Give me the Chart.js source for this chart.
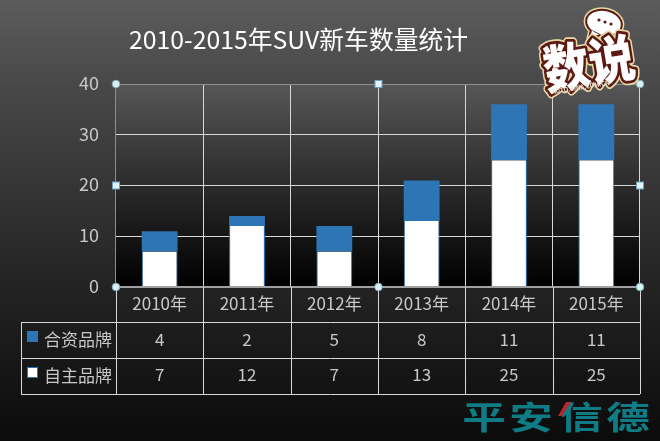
<!DOCTYPE html>
<html>
<head>
<meta charset="utf-8">
<script src="https://cdn.jsdelivr.net/npm/chart.js@4"></script>
<style>
html, body { margin: 0; padding: 0; background: #000; }
#wrap { position: relative; width: 660px; height: 441px; overflow: hidden; }
canvas { display: block; }
</style>
</head>
<body>
<div id="wrap"><canvas id="suv-chart" width="660" height="441"></canvas></div>
<script>
const years = ["2010年", "2011年", "2012年", "2013年", "2014年", "2015年"];
const jointVenture = [4, 2, 5, 8, 11, 11];
const domestic = [7, 12, 7, 13, 25, 25];
const yTicks = [0, 10, 20, 30, 40];
const seriesNames = ["合资品牌", "自主品牌"];

const FONT = '"Noto Sans CJK SC", "Open Sans", sans-serif';
const TEXT = "#c8c8c8";
const LINE = "#d8d8d8";
const EDGE = "#8e8e8e";
const BLUE = "#2e75b6";

// background gradients behind the plot and the table below it
const backdrop = {
  id: "backdrop",
  beforeDraw(chart) {
    const { ctx, width, height, chartArea: a } = chart;
    let g = ctx.createLinearGradient(0, 0, 0, height);
    g.addColorStop(0, "#5c5c5c");
    g.addColorStop(0.2, "#474747");
    g.addColorStop(0.65, "#232323");
    g.addColorStop(1, "#0b0b0b");
    ctx.fillStyle = g;
    ctx.fillRect(0, 0, width, height);
    g = ctx.createLinearGradient(0, a.top, 0, a.bottom);
    g.addColorStop(0, "#565656");
    g.addColorStop(1, "#000000");
    ctx.fillStyle = g;
    ctx.fillRect(a.left, a.top, a.right - a.left, a.bottom - a.top);
  },
};

function drawHandles(ctx, a) {
  const midX = 378.5;
  const midY = 185.5;
  [[a.left, a.top], [a.right, a.top], [a.left, a.bottom], [a.right, a.bottom], [midX, a.bottom]].forEach(([x, y]) => {
    ctx.beginPath();
    ctx.arc(x, y, 3.8, 0, Math.PI * 2);
    ctx.fillStyle = "#d9f1f5";
    ctx.fill();
    ctx.lineWidth = 1;
    ctx.strokeStyle = "#86aeb8";
    ctx.stroke();
  });
  [[midX, a.top], [a.left, midY], [a.right, midY]].forEach(([x, y]) => {
    ctx.fillStyle = "#dff3f9";
    ctx.fillRect(x - 3.5, y - 3.5, 7, 7);
    ctx.lineWidth = 1;
    ctx.strokeStyle = "#6f9fc4";
    ctx.strokeRect(x - 3.5, y - 3.5, 7, 7);
  });
}

function drawWatermark(ctx) {
  const chars = ["平", "安", "信", "德"];
  const charX = [484, 531, 581, 628];
  ctx.save();
  ctx.textAlign = "center";
  ctx.textBaseline = "middle";
  ctx.fillStyle = "#0f7b84";
  chars.forEach((c, i) => {
    ctx.save();
    ctx.translate(charX[i], 417);
    ctx.scale(1.36, 1);
    ctx.font = "bold 32px " + FONT;
    ctx.fillText(c, 0, 0);
    ctx.restore();
  });
  ctx.fillStyle = "#b8262c";
  ctx.beginPath();
  ctx.moveTo(566, 402);
  ctx.lineTo(571, 402);
  ctx.lineTo(562, 416);
  ctx.lineTo(558, 416);
  ctx.closePath();
  ctx.fill();
  ctx.restore();
}

function drawBadge(ctx) {
  ctx.save();
  // speech bubble
  ctx.lineJoin = "round";
  ctx.beginPath();
  ctx.ellipse(604, 23, 17, 12, 0.2, 0, Math.PI * 2);
  ctx.moveTo(592, 30);
  ctx.lineTo(590, 38);
  ctx.lineTo(600, 34);
  ctx.closePath();
  ctx.lineWidth = 7;
  ctx.strokeStyle = "#ead9a8";
  ctx.stroke();
  ctx.lineWidth = 4;
  ctx.strokeStyle = "#5c1a14";
  ctx.stroke();
  ctx.fillStyle = "#fff";
  ctx.fill();
  ctx.fillStyle = "#5c1a14";
  [[599, 20], [605, 22], [611, 24]].forEach(([x, y]) => {
    ctx.beginPath();
    ctx.arc(x, y, 1.6, 0, Math.PI * 2);
    ctx.fill();
  });

  ctx.translate(589, 63);
  ctx.rotate(-0.16);
  ctx.scale(1, 1.12);
  ctx.textAlign = "center";
  ctx.textBaseline = "middle";
  ctx.font = "900 46px " + FONT;
  ctx.lineWidth = 8;
  ctx.strokeStyle = "#ead9a8";
  ctx.strokeText("数说", 0, 0);
  ctx.lineWidth = 5;
  ctx.strokeStyle = "#5c1a14";
  ctx.strokeText("数说", 0, 0);
  ctx.fillStyle = "#fff";
  ctx.fillText("数说", 0, 0);
  ctx.font = "bold 6px " + FONT;
  ctx.fillStyle = "#e8e0d0";
  ctx.fillText("AUTO.SINA.COM.CN", -12, 20);
  ctx.restore();
}

// PowerPoint style data table under the category axis, plus selection handles
const dataTable = {
  id: "dataTable",
  afterDraw(chart) {
    const { ctx, chartArea: a, scales } = chart;
    const rowTop = [a.bottom, a.bottom + 35, a.bottom + 71, a.bottom + 107];
    const tableLeft = 21;
    const colW = (a.right - a.left) / years.length;
    ctx.save();
    ctx.strokeStyle = LINE;
    ctx.lineWidth = 1;
    ctx.beginPath();
    for (let i = 1; i < rowTop.length; i++) {
      ctx.moveTo(tableLeft, rowTop[i] + 0.5);
      ctx.lineTo(a.right, rowTop[i] + 0.5);
    }
    ctx.moveTo(tableLeft + 0.5, rowTop[1]);
    ctx.lineTo(tableLeft + 0.5, rowTop[3]);
    for (let i = 0; i <= years.length; i++) {
      const x = Math.round(a.left + i * colW) + 0.5;
      ctx.moveTo(x, a.bottom);
      ctx.lineTo(x, rowTop[3]);
    }
    ctx.stroke();

    ctx.fillStyle = TEXT;
    ctx.textAlign = "center";
    ctx.textBaseline = "middle";
    ctx.font = "17px " + FONT;
    years.forEach((y, i) => {
      const x = scales.x.getPixelForValue(i);
      ctx.fillText(y, x, rowTop[0] + 17);
      ctx.fillText(String(jointVenture[i]), x, rowTop[1] + 18);
      ctx.fillText(String(domestic[i]), x, rowTop[2] + 17);
    });
    ctx.textAlign = "left";
    ctx.fillText(seriesNames[0], 44, rowTop[1] + 18);
    ctx.fillText(seriesNames[1], 44, rowTop[2] + 18);

    ctx.fillStyle = BLUE;
    ctx.fillRect(27, rowTop[1] + 9, 11, 11);
    ctx.fillStyle = "#fff";
    ctx.fillRect(27, rowTop[2] + 9, 11, 11);
    ctx.strokeStyle = BLUE;
    ctx.strokeRect(27.5, rowTop[2] + 9.5, 10, 10);

    drawHandles(ctx, a);
    drawWatermark(ctx);
    drawBadge(ctx);
    ctx.restore();
  },
};

new Chart(document.getElementById("suv-chart").getContext("2d"), {
  type: "bar",
  data: {
    labels: years,
    datasets: [
      {
        label: seriesNames[1],
        data: domestic,
        backgroundColor: "#ffffff",
        borderColor: BLUE,
        borderWidth: { left: 1, right: 1 },
        stack: "s",
      },
      {
        label: seriesNames[0],
        data: jointVenture,
        backgroundColor: BLUE,
        stack: "s",
      },
    ],
  },
  options: {
    responsive: false,
    animation: false,
    layout: { padding: { left: 116, right: 20, top: 84, bottom: 154 } },
    plugins: {
      legend: { display: false },
      tooltip: { enabled: false },
      title: { display: false },
    },
    datasets: { bar: { categoryPercentage: 1, barPercentage: 0.41 } },
    scales: {
      x: {
        stacked: true,
        ticks: { display: false },
        grid: {
          color: (c) => (c.index === 0 || c.index === years.length ? EDGE : LINE),
          drawTicks: false,
          offset: true,
        },
        border: { display: false },
      },
      y: {
        stacked: true,
        min: 0,
        max: 40,
        afterBuildTicks(scale) {
          scale.ticks = yTicks.map((v) => ({ value: v }));
        },
        ticks: { display: false },
        grid: {
          color: (c) => (c.tick.value === 40 ? EDGE : c.tick.value === 0 ? "#a0a0a0" : LINE),
          lineWidth: (c) => (c.tick.value === 0 ? 2 : 1),
          drawTicks: false,
        },
        border: { display: false },
      },
    },
  },
  plugins: [
    backdrop,
    dataTable,
    {
      id: "outerText",
      afterDraw(chart) {
        const { ctx, scales } = chart;
        ctx.save();
        ctx.fillStyle = "#ffffff";
        ctx.font = "24.8px " + FONT;
        ctx.textAlign = "left";
        ctx.textBaseline = "middle";
        ctx.fillText("2010-2015年SUV新车数量统计", 129, 40);
        ctx.fillStyle = TEXT;
        ctx.font = "18px " + FONT;
        ctx.textAlign = "right";
        yTicks.forEach((v) => ctx.fillText(String(v), 99, scales.y.getPixelForValue(v) - 1));
        ctx.restore();
      },
    },
  ],
});
</script>
</body>
</html>
